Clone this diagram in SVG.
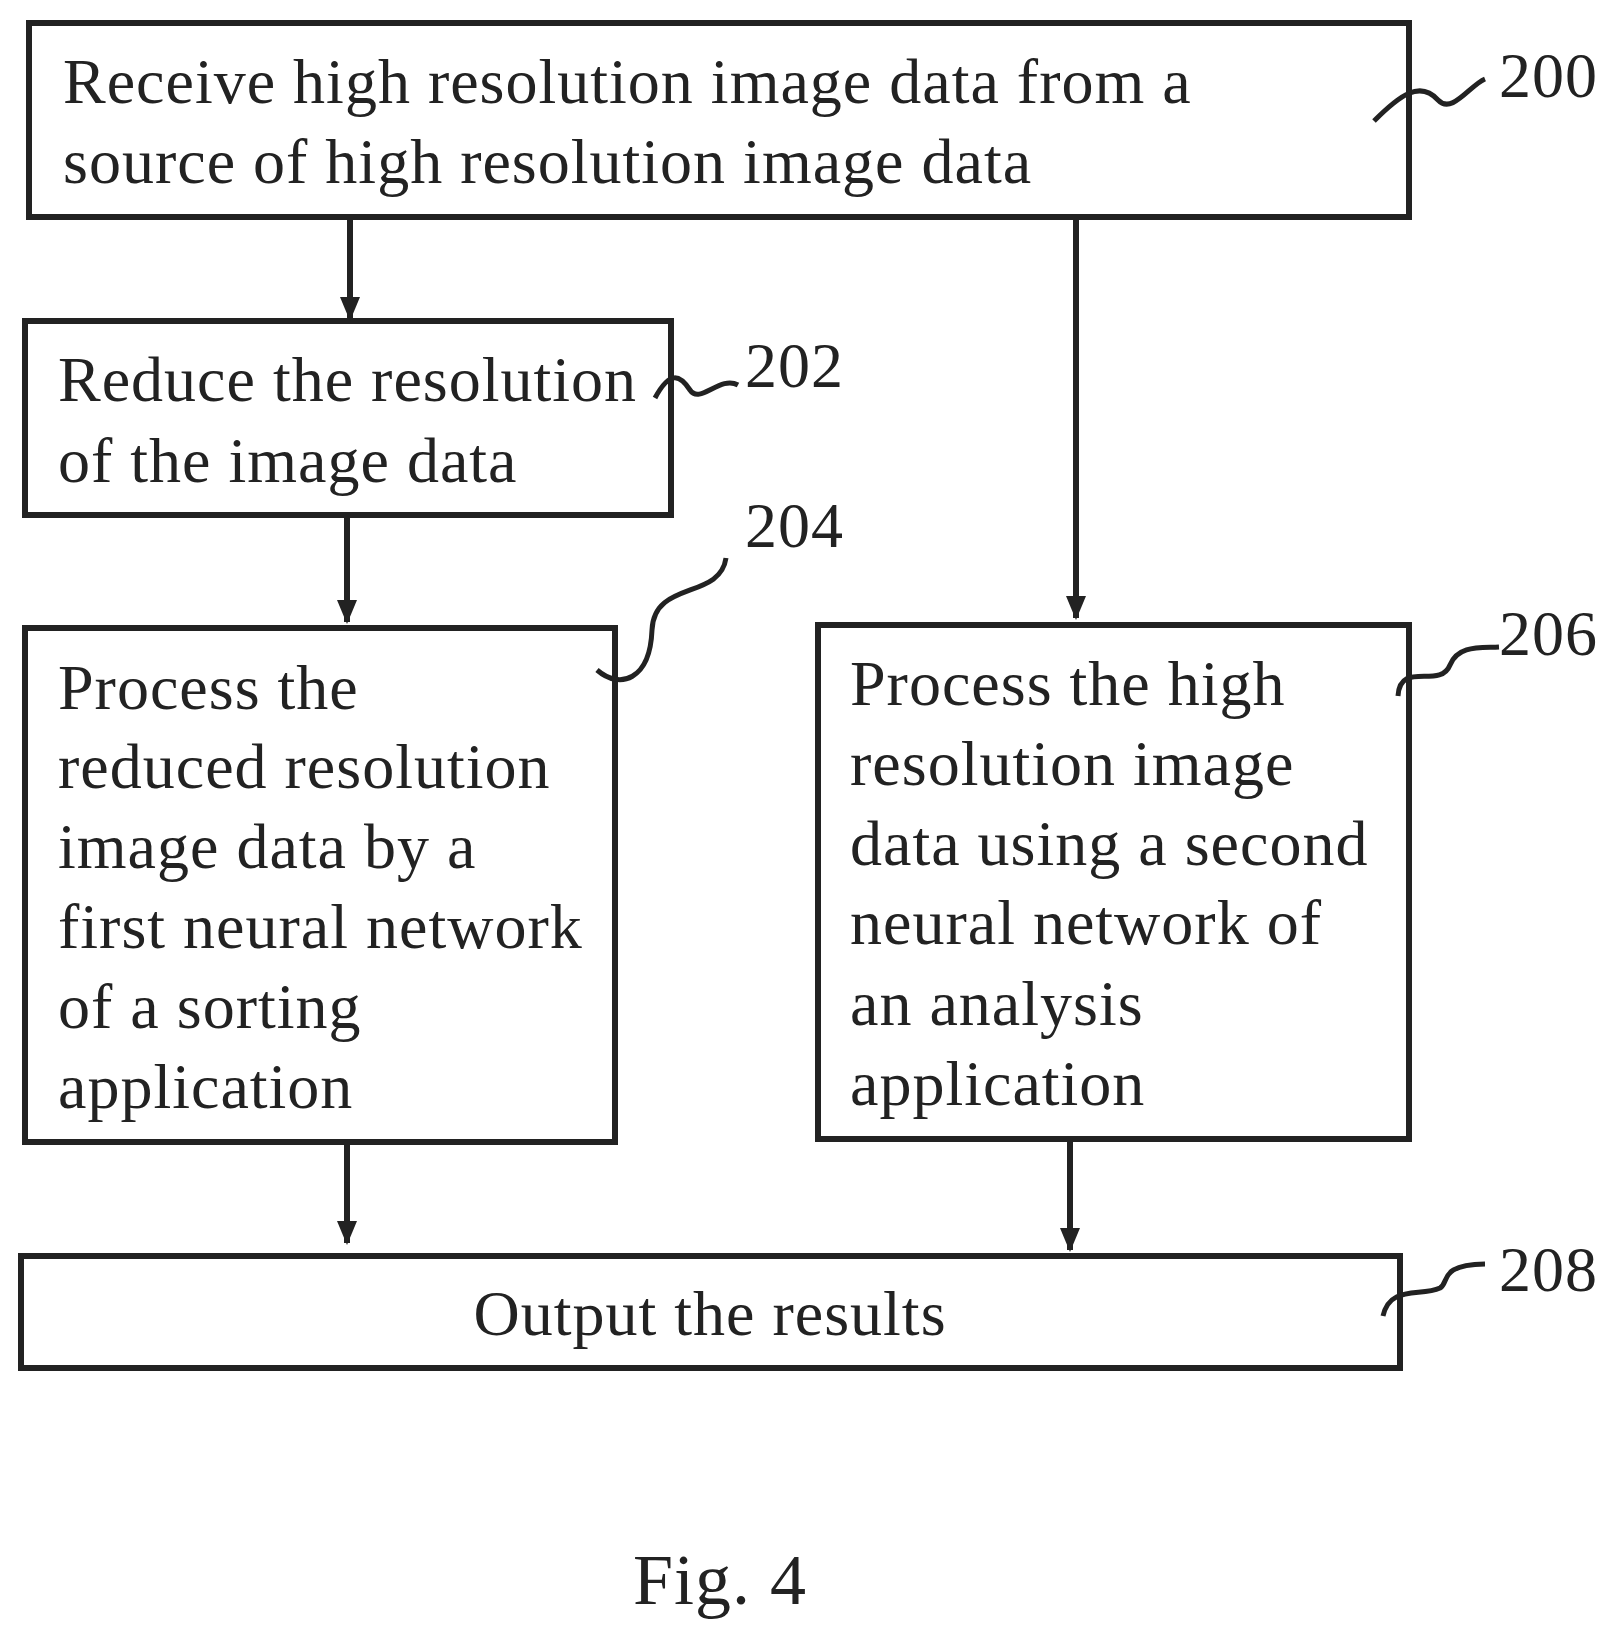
<svg xmlns="http://www.w3.org/2000/svg" width="1623" height="1647" viewBox="0 0 1623 1647">
<defs><marker id="ah" markerWidth="24" markerHeight="24" refX="22" refY="12" orient="auto" markerUnits="userSpaceOnUse" viewBox="0 0 24 24"><path d="M0,2 L24,12 L0,22 Z" fill="#222"/></marker></defs>
<style>
rect{fill:#fff;stroke:#222;stroke-width:6}
text{font-family:"Liberation Serif",serif;font-size:64px;letter-spacing:1px;fill:#222}
.c line{stroke:#222;stroke-width:6}
.s{fill:none;stroke:#222;stroke-width:5}
</style>
<rect width="1623" height="1647" style="stroke:none"/>
<g id="n200"><rect x="29" y="23" width="1380" height="194"/><text x="63" y="103">Receive high resolution image data from a</text><text x="63" y="183">source of high resolution image data</text></g>
<g id="n202"><rect x="25" y="321" width="646" height="194"/><text x="58" y="401">Reduce the resolution</text><text x="58" y="482">of the image data</text></g>
<g id="n204"><rect x="25" y="628" width="590" height="514"/><text x="58" y="709">Process the</text><text x="58" y="788">reduced resolution</text><text x="58" y="868">image data by a</text><text x="58" y="948">first neural network</text><text x="58" y="1028">of a sorting</text><text x="58" y="1108">application</text></g>
<g id="n206"><rect x="818" y="625" width="591" height="514"/><text x="850" y="705">Process the high</text><text x="850" y="785">resolution image</text><text x="850" y="865">data using a second</text><text x="850" y="944">neural network of</text><text x="850" y="1025">an analysis</text><text x="850" y="1105">application</text></g>
<g id="n208"><rect x="21" y="1256" width="1379" height="112"/><text x="710" y="1335" text-anchor="middle">Output the results</text></g>
<g class="c">
<line x1="350" y1="217" x2="350" y2="319" marker-end="url(#ah)"/>
<line x1="347" y1="515" x2="347" y2="622" marker-end="url(#ah)"/>
<line x1="1076" y1="217" x2="1076" y2="618" marker-end="url(#ah)"/>
<line x1="347" y1="1142" x2="347" y2="1243" marker-end="url(#ah)"/>
<line x1="1070" y1="1139" x2="1070" y2="1250" marker-end="url(#ah)"/>
</g>
<g id="labels">
<path class="s" d="M1374,121 C1400,95 1420,80 1438,100 C1452,115 1470,85 1485,79"/><text x="1499" y="97">200</text>
<path class="s" d="M655,398 C670,370 680,375 690,390 C700,405 720,375 738,385"/><text x="745" y="387">202</text>
<path class="s" d="M597,670 C620,690 650,680 652,630 C654,580 720,600 726,558"/><text x="745" y="547">204</text>
<path class="s" d="M1398,696 C1400,660 1440,690 1450,665 C1458,645 1480,648 1499,647"/><text x="1499" y="655">206</text>
<path class="s" d="M1383,1316 C1390,1285 1420,1297 1440,1288 C1450,1282 1438,1265 1485,1264"/><text x="1499" y="1291">208</text>
</g>
<text x="720" y="1604" text-anchor="middle" style="font-size:72px">Fig. 4</text>
</svg>
